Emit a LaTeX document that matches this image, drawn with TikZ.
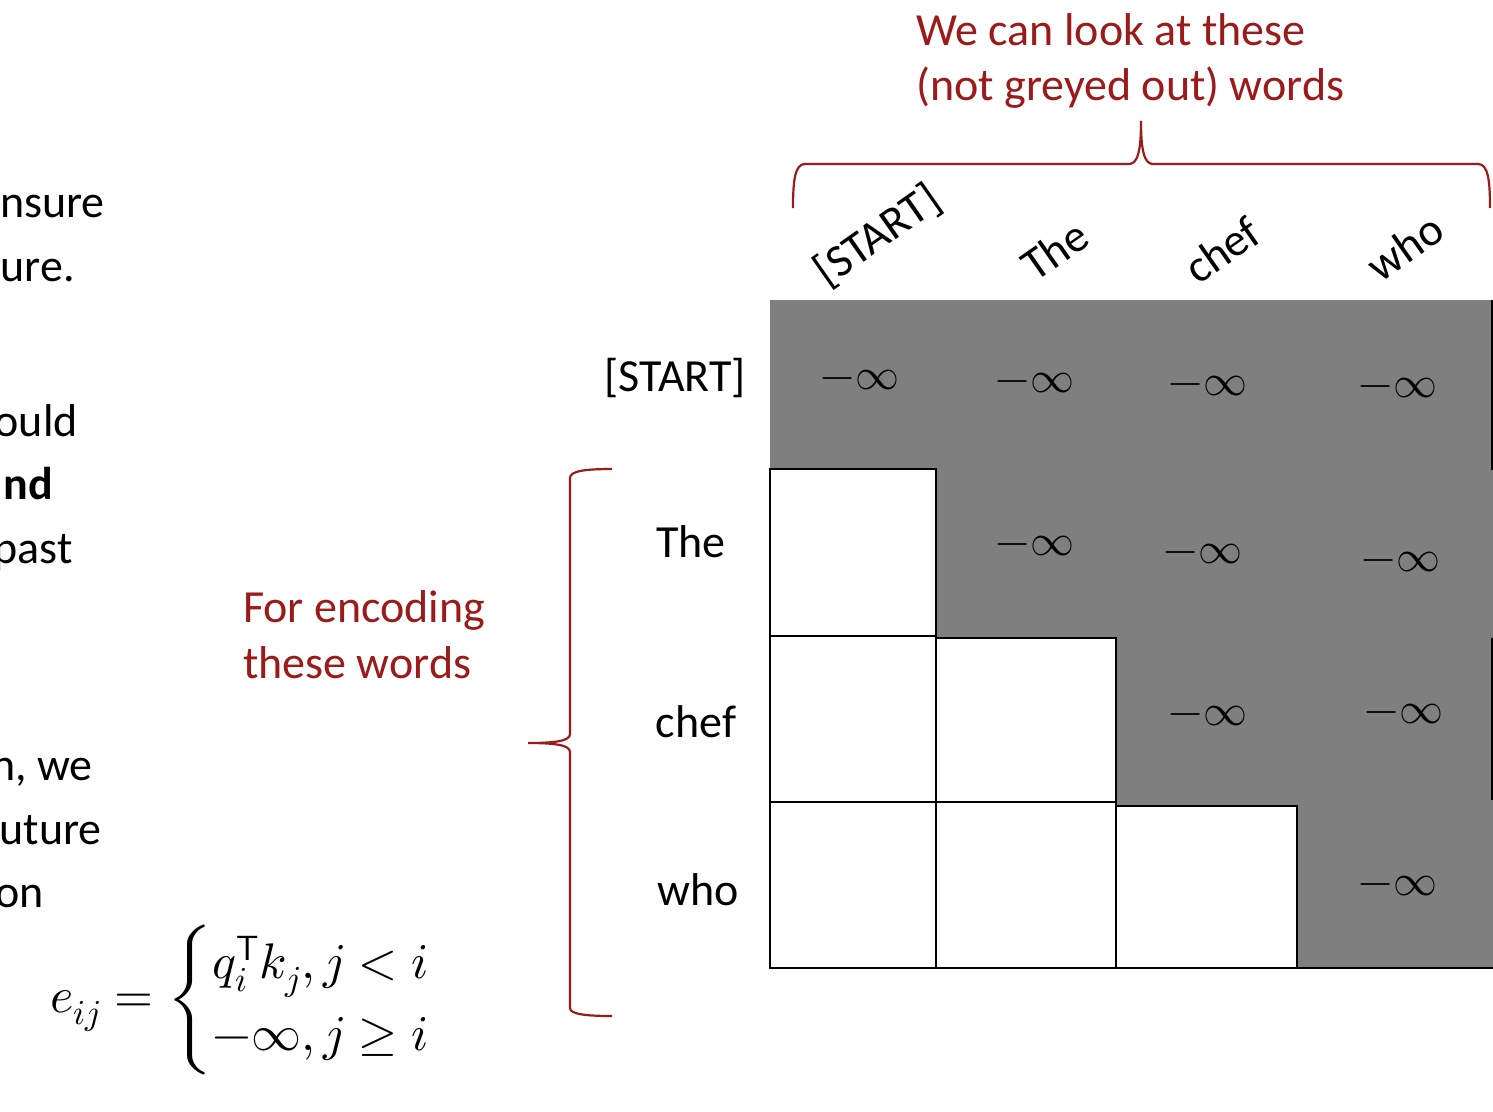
\documentclass[tikz,border=0pt]{standalone}
\usepackage{fontspec}
\usepackage{amsmath}
\usepackage{unicode-math}
\setmainfont{Carlito}
\setmathfont{Latin Modern Math}
\definecolor{myred}{RGB}{155,27,27}
\definecolor{cellgray}{RGB}{127,127,127}
\begin{document}
\begin{tikzpicture}[x=1pt,y=-1pt,
  lbl/.style={font=\fontsize{46}{56}\selectfont, inner sep=0pt},
  redtxt/.style={lbl, text=myred, anchor=base west},
  lefttxt/.style={lbl, anchor=base east},
  inf/.style={font=\fontsize{44}{52}\selectfont, inner sep=0pt},
  brace/.style={draw=myred, line width=2.2pt},
  cell/.style={fill=white, draw=black, line width=1.4pt},
  colhead/.style={lbl, rotate=35}]
\useasboundingbox (0,0) rectangle (1493,1111);
\fill[white] (0,0) rectangle (1493,1111);
\begin{scope}
\clip (0,0) rectangle (1493,1111);
% left cut-off text
\node[lefttxt] (t1) at (105,217) {nsure};
\node[lefttxt] (t2) at (75,281) {ure.};
\node[lefttxt] (t3) at (78,436) {ould};
\node[lefttxt, font=\fontsize{46}{56}\selectfont\bfseries] (t4) at (53,499) {nd};
\node[lefttxt] (t5) at (73,563) {past};
\node[lefttxt] (t6) at (93,780) {n, we};
\node[lefttxt] (t7) at (102,844) {uture};
\node[lefttxt] (t8) at (44,907) {on};
% matrix
\fill[cellgray] (770,300) rectangle (1493,968);
\draw[cell] (770,469) rectangle (936,636);
\draw[cell] (770,636) rectangle (936,802);
\draw[cell] (936,638) rectangle (1116,802);
\draw[cell] (770,802) rectangle (936,968);
\draw[cell] (936,802) rectangle (1116,968);
\draw[cell] (1116,806) rectangle (1297,968);
\draw[line width=1.4pt] (1297,968) -- (1493,968);
\draw[line width=1.4pt] (1492,300) -- (1492,470);
\draw[line width=1.4pt] (1492,638) -- (1492,800);
\end{scope}
% infinities
\node[inf] (m11) at (860,380) {$-\infty$};
\node[inf] (m12) at (1035,383) {$-\infty$};
\node[inf] (m13) at (1208,386) {$-\infty$};
\node[inf] (m14) at (1398,388) {$-\infty$};
\node[inf] (m22) at (1035,546) {$-\infty$};
\node[inf] (m23) at (1203,554) {$-\infty$};
\node[inf] (m24) at (1401,562) {$-\infty$};
\node[inf] (m33) at (1208,716) {$-\infty$};
\node[inf] (m34) at (1404,714) {$-\infty$};
\node[inf] (m44) at (1398,886) {$-\infty$};
% row labels
\node[lbl, anchor=east] (r1) at (746,378) {[START]};
\node[lbl] (r2) at (691,542) {The};
\node[lbl] (r3) at (696,722) {chef};
\node[lbl] (r4) at (698,890) {who};
% column labels
\node[colhead] (c1) at (878,236) {[START]};
\node[colhead] (c2) at (1055,250) {The};
\node[colhead] (c3) at (1222,250) {chef};
\node[colhead] (c4) at (1405,247) {who};
% red texts
\node[redtxt] (top1) at (916,45) {We can look at these};
\node[redtxt] (top2) at (916,100) {(not greyed out) words};
\node[redtxt] (enc1) at (243,622) {For encoding};
\node[redtxt] (enc2) at (243,678) {these words};
% braces
\draw[brace] (793,208) .. controls (793,180) and (795,164) .. (805,164) -- (1129,164)
  .. controls (1138,164) and (1141,150) .. (1141,121)
  .. controls (1141,150) and (1144,164) .. (1153,164) -- (1478,164)
  .. controls (1488,164) and (1490,180) .. (1490,208);
\draw[brace] (612,469) .. controls (585,469) and (570,471) .. (570,478) -- (570,734)
  .. controls (570,741) and (555,743) .. (528,743)
  .. controls (555,743) and (570,745) .. (570,752) -- (570,1008)
  .. controls (570,1014) and (585,1016) .. (612,1016);
% equation
\node[font=\fontsize{50}{60}\selectfont, inner sep=0pt, anchor=west] (eq) at (50,1000)
  {$e_{ij} = \begin{cases} q_i^{\mathsf{T}} k_j, j < i\\ -\infty, j \geq i \end{cases}$};
\end{tikzpicture}
\end{document}
